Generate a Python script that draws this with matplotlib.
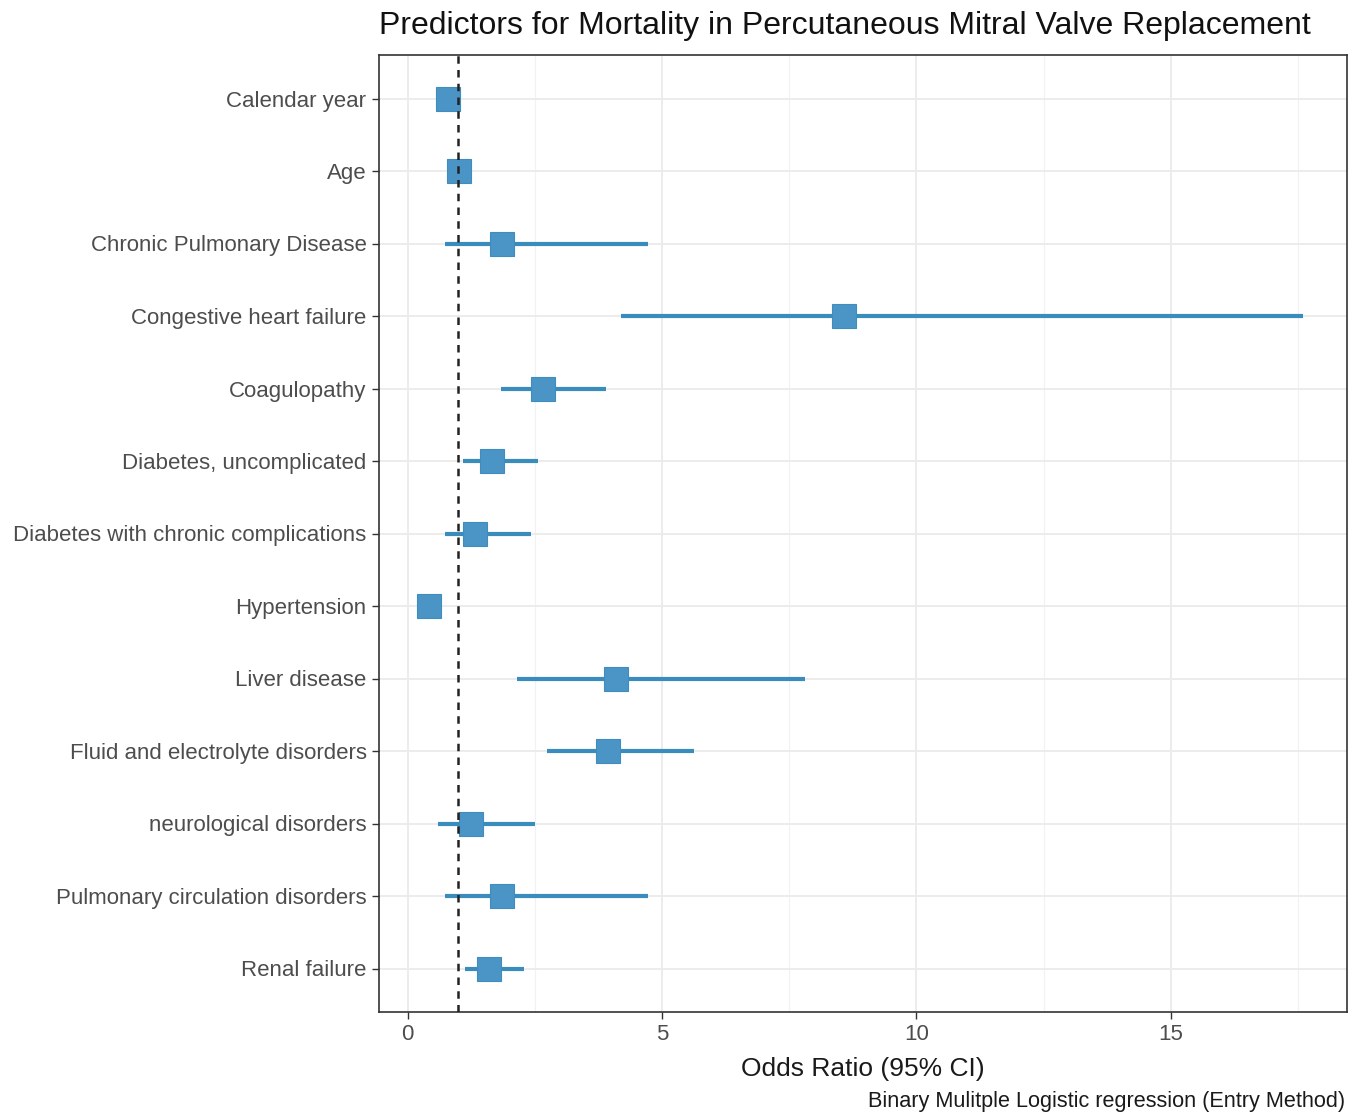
import matplotlib
matplotlib.use("Agg")
import matplotlib.pyplot as plt
from matplotlib.ticker import MultipleLocator

plt.rcParams['font.family'] = ['Liberation Sans', 'DejaVu Sans']

predictors = ["Calendar year", "Age", "Chronic Pulmonary Disease", "Congestive heart failure",
              "Coagulopathy", "Diabetes, uncomplicated", "Diabetes with chronic complications",
              "Hypertension", "Liver disease", "Fluid and electrolyte disorders",
              "neurological disorders", "Pulmonary circulation disorders", "Renal failure"]
odds_ratio = [0.80, 1.02, 1.85, 8.57, 2.66, 1.67, 1.33, 0.43, 4.09, 3.93, 1.24, 1.85, 1.60]
ci_lower   = [0.72, 0.97, 0.74, 4.19, 1.84, 1.10, 0.74, 0.35, 2.15, 2.75, 0.59, 0.74, 1.13]
ci_upper   = [0.89, 1.07, 4.72, 17.60, 3.90, 2.56, 2.42, 0.55, 7.82, 5.63, 2.50, 4.72, 2.28]
x_ticks = [0, 5, 10, 15]

W, H = 1365, 1117
fig = plt.figure(figsize=(W/100, H/100), dpi=100)
ax = fig.add_axes([379/W, 1 - 1012/H, (1347-379)/W, (1012-55)/H])

ypos = list(range(len(predictors)))
line_col = '#3a8cbd'
mark_col = '#4a95c6'
ax.hlines(ypos, ci_lower, ci_upper, color=line_col, lw=3.0, zorder=3)
ax.plot(odds_ratio, ypos, 's', ms=17, color=mark_col, mec='#3f8cbe', mew=0.8, zorder=4, linestyle='none')
ax.axvline(1, color='#222222', ls=(0, (3, 2.5)), lw=1.8, zorder=5)

ax.set_xlim(-0.56, 18.46)
ax.set_ylim(len(predictors) - 1 + 0.6, -0.6)
ax.set_xticks(x_ticks)
ax.set_xticklabels([str(t) for t in x_ticks])
ax.xaxis.set_minor_locator(MultipleLocator(2.5))
ax.set_yticks(ypos)
ax.set_yticklabels(predictors)

ax.grid(True, which='major', color='#ebebeb', lw=1.3, zorder=0)
ax.grid(True, which='minor', axis='x', color='#f2f2f2', lw=0.9, zorder=0)
ax.set_axisbelow(True)
ax.tick_params(axis='both', which='major', length=5, width=1.0, color='#333333',
               labelcolor='#4d4d4d', labelsize=16, pad=4)
ax.tick_params(axis='x', which='minor', length=0)
for s in ax.spines.values():
    s.set_color('#333333')
    s.set_linewidth(1.2)

ax.set_xlabel("Odds Ratio (95% CI)", fontsize=19, color='#1a1a1a', labelpad=8)
fig.text(379/W, 1 - 26/H, "Predictors for Mortality in Percutaneous Mitral Valve Replacement",
         fontsize=23, color='#111111', ha='left', va='center')
fig.text(1345/W, 1 - 1101/H, "Binary Mulitple Logistic regression (Entry Method)",
         fontsize=15.6, color='#1a1a1a', ha='right', va='center')

fig.savefig("out.png", dpi=100, facecolor='white')
